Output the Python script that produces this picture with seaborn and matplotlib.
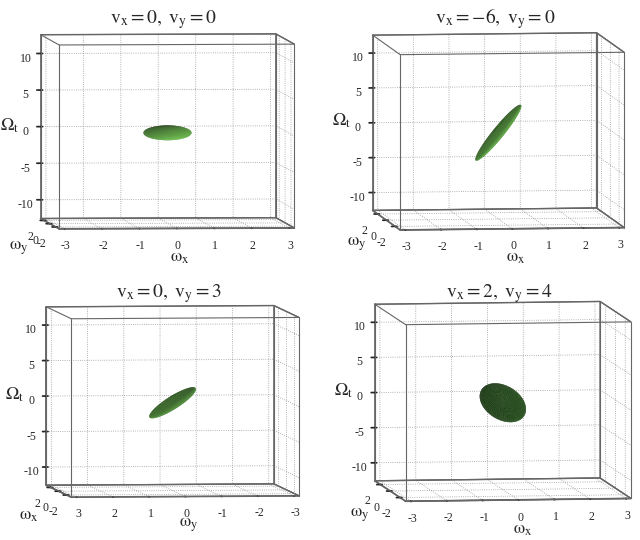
import numpy as np
import matplotlib
matplotlib.use("Agg")
import matplotlib.pyplot as plt
from matplotlib.colors import LightSource
import seaborn as sns

sns.set_theme(style="white", rc={"grid.linestyle": ":", "grid.color": "0.6", "grid.linewidth": 0.6})
plt.rcParams["font.family"] = ["Liberation Serif", "DejaVu Serif"]
plt.rcParams["mathtext.fontset"] = "stix"
plt.rcParams["axes.unicode_minus"] = False

# velocities of the four panels
vx = [0, -6, 0, 2]
vy = [0, 0, 3, 4]
# spectral support: ellipsoid centre (wx, wy, Wt) and semi-axes before shearing
centre = (0.0, 0.0, -0.2)
semi_axes = (0.64, 0.64, 1.0)
# axis ranges
wx_lim = (-np.pi, np.pi)
wy_lim = (-np.pi, np.pi)
wt_lim = (-4 * np.pi, 4 * np.pi)
horiz_ticks = [-3, -2, -1, 0, 1, 2, 3]
depth_ticks = [-2, 0, 2]
wt_ticks = [-10, -5, 0, 5, 10]

# camera for each panel
elevs = [2.5, 5, 3, 5.2]
azims = [-94.5, -97, 173.7, -97.8]
zooms = [1.37, 1.31, 1.33, 1.32]
colors = ["#6cc84a", "#62be42", "#5cb23e", "#2f6224"]
rects = [[0.006, 0.5, 0.5, 0.5], [0.523, 0.5, 0.5, 0.5],
         [0.014, 0.0, 0.5, 0.5], [0.53, 0.0, 0.5, 0.5]]
title_y = [0.96, 0.96, 0.942, 0.942]

fig = plt.figure(figsize=(6.4, 5.4), dpi=100)
ls = LightSource(azdeg=300, altdeg=65)

u = np.linspace(0, 2 * np.pi, 70)
w = np.linspace(0, np.pi, 40)
U, W = np.meshgrid(u, w)

for i in range(4):
    ax = fig.add_axes(rects[i], projection="3d")
    ax.set_proj_type("ortho")
    cx, cy, cz = centre
    a, b, c = semi_axes
    ex = cx + a * np.cos(U) * np.sin(W)
    ey = cy + b * np.sin(U) * np.sin(W)
    ez = cz + c * np.cos(W) - vx[i] * (ex - cx) - vy[i] * (ey - cy)
    ax.plot_surface(ex, ey, ez, color=colors[i], shade=True, lightsource=ls,
                    linewidth=0, antialiased=True, rcount=40, ccount=70)

    # full box outline
    for ys in wy_lim:
        for zs in wt_lim:
            ax.plot(wx_lim, [ys, ys], [zs, zs], color="0.4", lw=0.8)
    for xs in wx_lim:
        for zs in wt_lim:
            ax.plot([xs, xs], wy_lim, [zs, zs], color="0.4", lw=0.8)
        for ys in wy_lim:
            ax.plot([xs, xs], [ys, ys], wt_lim, color="0.4", lw=0.8)

    ax.set_xlim(wx_lim)
    ax.set_ylim(wy_lim)
    ax.set_zlim(wt_lim)
    if i == 2:
        ax.set_yticks(horiz_ticks)
        ax.set_xticks(depth_ticks)
        ax.zaxis.set_ticks_position("upper")
        ax.zaxis.set_label_position("upper")
        depth_axis, horiz_axis = ax.xaxis, ax.yaxis
    else:
        ax.set_xticks(horiz_ticks)
        ax.set_yticks(depth_ticks)
        depth_axis, horiz_axis = ax.yaxis, ax.xaxis
    ax.set_zticks(wt_ticks)
    ax.set_box_aspect((1, 1, 0.78), zoom=zooms[i])
    ax.view_init(elev=elevs[i], azim=azims[i])

    for axis in (ax.xaxis, ax.yaxis, ax.zaxis):
        axis.set_pane_color((1, 1, 1, 1))
        axis.pane.set_edgecolor("0.4")
        axis.line.set_color("0.4")
        axis.set_tick_params(labelsize=8.5, pad=-2)
    depth_axis.set_rotate_label(False)
    ax.zaxis.set_rotate_label(False)

    ax.set_xlabel(r"$\mathrm{\omega_x}$", fontsize=13)
    ax.set_ylabel(r"$\mathrm{\omega_y}$", fontsize=13)
    horiz_axis.labelpad = -6
    depth_axis.labelpad = -7.5
    depth_axis.label.set_rotation(0)
    ax.set_zlabel(r"$\mathrm{\Omega_t}$", fontsize=13, labelpad=-8.5, rotation=0)
    ax.set_title(rf"$\mathrm{{v_x}} = {vx[i]},\ \mathrm{{v_y}} = {vy[i]}$",
                 fontsize=14, y=title_y[i])

fig.savefig("out.png", dpi=100)
